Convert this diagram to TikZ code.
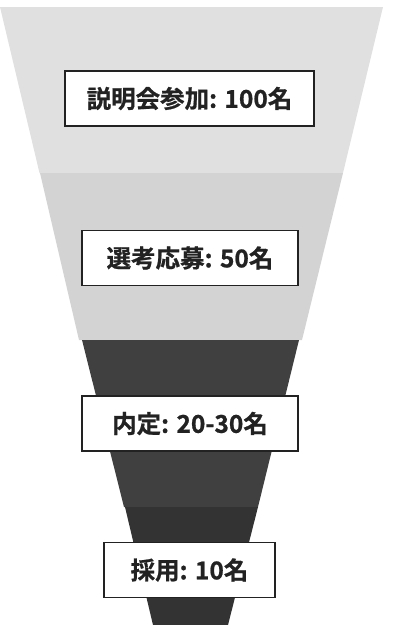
\documentclass[tikz,border=0pt]{standalone}
\usepackage{fontspec}
\setmainfont{Noto Sans CJK JP}[BoldFont={Noto Sans CJK JP Bold}, BoldFeatures={FakeBold=0.8}]
\definecolor{sone}{HTML}{E0E0E0}
\definecolor{stwo}{HTML}{D3D3D3}
\definecolor{sthree}{HTML}{404040}
\definecolor{sfour}{HTML}{333333}
\definecolor{ink}{HTML}{222222}
\tikzset{
  label box/.style={draw=ink, line width=1.4pt, fill=white, minimum height=55pt,
    inner sep=0pt, text=ink, font=\bfseries\fontsize{24.5}{28}\selectfont},
}
\begin{document}
\begin{tikzpicture}[x=1pt,y=-1pt]
\useasboundingbox (0,0) rectangle (393,625);
\fill[sone]   (0,7) -- (383,7) -- (343,173) -- (39.5,173) -- cycle;
\fill[stwo]   (40,173) -- (343,173) -- (302,340) -- (79,340) -- cycle;
\fill[sthree] (82,340) -- (299,340) -- (258,507) -- (124,507) -- cycle;
\fill[sfour]  (125,507) -- (258,507) -- (228,625) -- (153,625) -- cycle;
\node[label box, minimum width=249pt] (a) at (189.5,98.5) {説明会参加: 100名};
\node[label box, minimum width=216pt] (b) at (190,258) {選考応募: 50名};
\node[label box, minimum width=216pt] (c) at (190,423.5) {内定: 20-30名};
\node[label box, minimum width=171pt] (d) at (189.5,570) {採用: 10名};
\end{tikzpicture}
\end{document}
